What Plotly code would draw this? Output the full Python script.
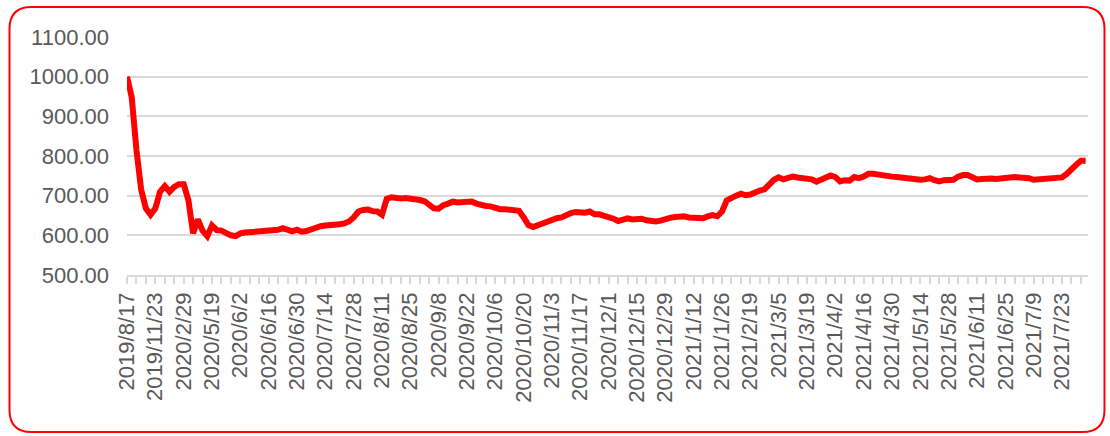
import plotly.graph_objects as go

# ---- data ----
tick_labels = [
    "2019/8/17", "2019/11/23", "2020/2/29", "2020/5/19", "2020/6/2", "2020/6/16",
    "2020/6/30", "2020/7/14", "2020/7/28", "2020/8/11", "2020/8/25", "2020/9/8",
    "2020/9/22", "2020/10/6", "2020/10/20", "2020/11/3", "2020/11/17", "2020/12/1",
    "2020/12/15", "2020/12/29", "2021/1/12", "2021/1/26", "2021/2/19", "2021/3/5",
    "2021/3/19", "2021/4/2", "2021/4/16", "2021/4/30", "2021/5/14", "2021/5/28",
    "2021/6/11", "2021/6/25", "2021/7/9", "2021/7/23",
]
label_step = 6  # points between labelled dates

values_2019_2020 = [
    1000, 948, 815, 715, 668, 652, 668, 710, 724, 710, 722, 729,
    729, 689, 605, 640, 612, 598, 625, 613, 612, 605, 600, 598,
    605, 607, 608, 609, 610, 612, 611, 611, 614, 618, 612, 610,
    614, 609, 611, 616, 619, 623, 625, 626, 624, 628, 630, 635,
    645, 660, 664, 665, 661, 660, 652, 692, 696, 694, 693, 694,
    693, 689, 689, 686, 679, 668, 667, 676, 680, 685, 683, 683,
    684, 685, 680, 675, 674, 673, 669, 666, 666, 665, 664, 662,
    645, 626, 621, 626, 630, 633, 639, 643, 645, 652, 656, 659,
    658, 657, 660, 653, 653, 650, 644, 642, 636, 639, 643, 640,
    641, 642, 638, 636, 635, 637, 642, 644, 646, 648, 648, 645,
]
values_2021 = [
    644, 646, 643, 648, 651, 648, 660, 688, 696, 700, 705, 701,
    703, 709, 713, 716, 730, 740, 746, 741, 745, 748, 746, 745,
    742, 741, 735, 740, 749, 751, 747, 736, 739, 738, 747, 744,
    748, 755, 755, 753, 749, 749, 748, 747, 745, 744, 742, 741,
    740, 741, 744, 739, 736, 739, 740, 740, 748, 752, 752, 747,
    741, 742, 744, 743, 742, 743, 744, 748, 747, 746, 746, 744,
    740, 741, 741, 742, 746, 747, 746, 755, 768, 778, 788, 788,
]
values = values_2019_2020 + values_2021

y_min, y_max, y_step = 500, 1100, 100

# ---- figure ----
x = list(range(len(values)))
tickvals = [i * label_step for i in range(len(tick_labels))]

L, R, T, B = 127, 1088, 37, 275
W_FIG, H_FIG = 1110, 436

fig = go.Figure()
fig.add_trace(go.Scatter(
    x=x, y=values, mode="lines",
    line=dict(color="#ff0000", width=6),
    hoverinfo="skip", showlegend=False,
))

font_family = "Liberation Sans, Arial, sans-serif"
grid_color = "#d9d9d9"
text_color = "#595959"

fig.update_layout(
    width=W_FIG, height=H_FIG,
    margin=dict(l=L, r=W_FIG - R, t=T, b=H_FIG - B, pad=0),
    paper_bgcolor="white", plot_bgcolor="white",
    font=dict(family=font_family, color=text_color, size=22),
    xaxis=dict(
        range=[0, 203.5], tickmode="array", tickvals=tickvals, ticktext=tick_labels,
        tickangle=-90, showgrid=False, zeroline=False,
        showline=True, linecolor=grid_color, linewidth=1.5,
        ticks="outside", ticklen=7, tickwidth=1.5, tickcolor=grid_color,
        minor=dict(ticks="outside", tickmode="linear", tick0=0, dtick=2,
                   ticklen=7, tickwidth=1.5, tickcolor=grid_color, showgrid=False),
        tickfont=dict(size=22, color=text_color, family=font_family),
        fixedrange=True,
    ),
    yaxis=dict(
        range=[y_min, y_max], tickmode="linear", tick0=y_min, dtick=y_step,
        tickformat=".2f", showgrid=True, gridcolor=grid_color, gridwidth=1.5,
        zeroline=False, showline=False, ticks="",
        ticklabelstandoff=17,
        tickfont=dict(size=22, color=text_color, family=font_family),
        fixedrange=True,
    ),
)

# rounded red frame around the chart (pixel geometry converted to paper units)
def px(v):
    return (v - L) / (R - L)

def py(v):
    return (B - v) / (B - T)

x0, x1, y0, y1, r = 9.5, 1104.5, 7, 432, 22
pts = [
    ("M", x0 + r, y0), ("L", x1 - r, y0), ("Q", x1, y0, x1, y0 + r),
    ("L", x1, y1 - r), ("Q", x1, y1, x1 - r, y1), ("L", x0 + r, y1),
    ("Q", x0, y1, x0, y1 - r), ("L", x0, y0 + r), ("Q", x0, y0, x0 + r, y0),
]
path = ""
for p in pts:
    cmd, coords = p[0], p[1:]
    pairs = [f"{px(coords[i]):.5f},{py(coords[i + 1]):.5f}" for i in range(0, len(coords), 2)]
    path += cmd + " " + " ".join(pairs) + " "
path += "Z"
fig.add_shape(type="path", path=path, xref="paper", yref="paper",
              line=dict(color="#ff0000", width=2), fillcolor="rgba(0,0,0,0)", layer="above")

fig.write_html(
    "out.html",
    config={"displayModeBar": False},
    post_script="document.body.style.margin='0';document.body.style.overflow='hidden';",
)
